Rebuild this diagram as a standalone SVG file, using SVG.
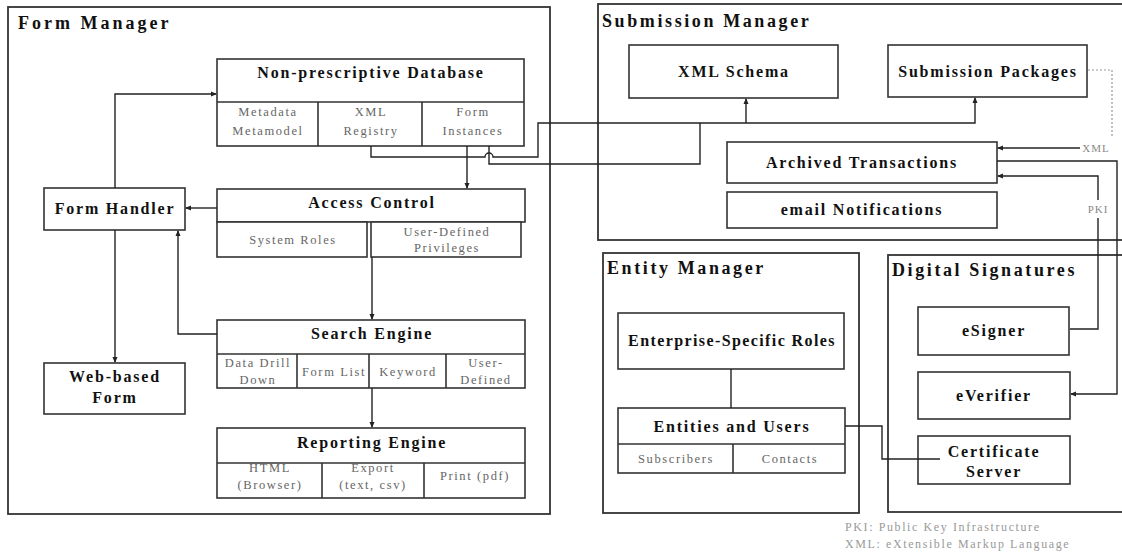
<svg xmlns="http://www.w3.org/2000/svg" width="1122" height="554" viewBox="0 0 1122 554">
  <defs>
    <marker id="dot" viewBox="0 0 6 6" refX="5" refY="3" markerWidth="6" markerHeight="6" markerUnits="userSpaceOnUse" orient="auto">
      <path d="M0,0.5 L6,3 L0,5.5 Z" fill="#222"/>
    </marker>
    <style>
      .frame { fill: #fff; stroke: #333; stroke-width: 1.8; }
      .box { fill: #fff; stroke: #333; stroke-width: 1.6; }
      .div { fill: none; stroke: #333; stroke-width: 1.6; }
      .link { fill: none; stroke: #222; stroke-width: 1.4; }
      .arrow { marker-end: url(#dot); }
      .faint { fill: none; stroke: #999; stroke-width: 1.2; stroke-dasharray: 2 2; }
      .title { font-family: "Liberation Serif", "Times New Roman", serif; font-weight: bold; font-size: 18px; letter-spacing: 2.6px; fill: #111; }
      .head { font-family: "Liberation Serif", "Times New Roman", serif; font-weight: bold; font-size: 16px; letter-spacing: 1.8px; fill: #111; text-anchor: middle; }
      .cell { font-family: "Liberation Serif", "Times New Roman", serif; font-size: 12.5px; letter-spacing: 1.6px; fill: #666; text-anchor: middle; }
      .tag { font-family: "Liberation Serif", "Times New Roman", serif; font-size: 11px; letter-spacing: 1px; fill: #888; text-anchor: middle; }
      .legend { font-family: "Liberation Serif", "Times New Roman", serif; font-size: 12px; letter-spacing: 1.6px; fill: #999; }
    </style>
  </defs>
  <rect width="1122" height="554" fill="#fff"/>

  <!-- manager frames -->
  <g id="form-manager">
    <rect class="frame" x="8" y="7" width="542" height="507"/>
    <text class="title" x="18" y="29" style="letter-spacing:3px">Form Manager</text>
  </g>
  <g id="submission-manager">
    <rect class="frame" x="598" y="4" width="540" height="236"/>
    <text class="title" x="602" y="27">Submission Manager</text>
  </g>
  <g id="entity-manager">
    <rect class="frame" x="603" y="253" width="256" height="260"/>
    <text class="title" x="607" y="274">Entity Manager</text>
  </g>
  <g id="digital-signatures">
    <rect class="frame" x="888" y="255" width="250" height="257"/>
    <text class="title" x="892" y="276">Digital Signatures</text>
  </g>

  <!-- Form Manager nodes -->
  <g id="database">
    <rect class="box" x="217" y="59" width="307" height="87"/>
    <path class="div" d="M217,102 H524 M318,102 V146 M422,102 V146"/>
    <text class="head" x="371" y="78">Non-prescriptive Database</text>
    <text class="cell" x="268" y="116">Metadata</text>
    <text class="cell" x="268" y="135">Metamodel</text>
    <text class="cell" x="371" y="116">XML</text>
    <text class="cell" x="371" y="135">Registry</text>
    <text class="cell" x="473" y="116">Form</text>
    <text class="cell" x="473" y="135">Instances</text>
  </g>
  <g id="form-handler">
    <rect class="box" x="44" y="188" width="141" height="42"/>
    <text class="head" x="115" y="214">Form Handler</text>
  </g>
  <g id="access-control">
    <rect class="box" x="217" y="189" width="308" height="33"/>
    <rect class="box" x="217" y="222" width="150" height="35"/>
    <rect class="box" x="371" y="222" width="150" height="35"/>
    <text class="head" x="372" y="208">Access Control</text>
    <text class="cell" x="293" y="244">System Roles</text>
    <text class="cell" x="447" y="236">User-Defined</text>
    <text class="cell" x="447" y="252">Privileges</text>
  </g>
  <g id="search-engine">
    <rect class="box" x="217" y="320" width="308" height="68"/>
    <path class="div" d="M217,354 H525 M297,354 V388 M369,354 V388 M446,354 V388"/>
    <text class="head" x="372" y="339">Search Engine</text>
    <text class="cell" x="258" y="367">Data Drill</text>
    <text class="cell" x="258" y="384">Down</text>
    <text class="cell" x="334" y="376">Form List</text>
    <text class="cell" x="408" y="376">Keyword</text>
    <text class="cell" x="486" y="367">User-</text>
    <text class="cell" x="486" y="384">Defined</text>
  </g>
  <g id="web-form">
    <rect class="box" x="44" y="363" width="141" height="51"/>
    <text class="head" x="115" y="382">Web-based</text>
    <text class="head" x="115" y="403">Form</text>
  </g>
  <g id="reporting-engine">
    <rect class="box" x="217" y="428" width="308" height="70"/>
    <path class="div" d="M217,463 H525 M322,463 V498 M424,463 V498"/>
    <text class="head" x="372" y="448">Reporting Engine</text>
    <text class="cell" x="270" y="472">HTML</text>
    <text class="cell" x="270" y="489">(Browser)</text>
    <text class="cell" x="373" y="472">Export</text>
    <text class="cell" x="373" y="489">(text, csv)</text>
    <text class="cell" x="475" y="480">Print (pdf)</text>
  </g>

  <!-- Submission Manager nodes -->
  <g id="xml-schema">
    <rect class="box" x="629" y="45" width="209" height="53"/>
    <text class="head" x="734" y="77">XML Schema</text>
  </g>
  <g id="submission-packages">
    <rect class="box" x="888" y="45" width="199" height="52"/>
    <text class="head" x="988" y="77">Submission Packages</text>
  </g>
  <g id="archived-transactions">
    <rect class="box" x="727" y="142" width="270" height="41"/>
    <text class="head" x="862" y="168">Archived Transactions</text>
  </g>
  <g id="email-notifications">
    <rect class="box" x="727" y="192" width="270" height="36"/>
    <text class="head" x="862" y="215">email Notifications</text>
  </g>

  <!-- Entity Manager nodes -->
  <g id="enterprise-roles">
    <rect class="box" x="618" y="313" width="226" height="56"/>
    <text class="head" x="732" y="346" style="letter-spacing:1.4px">Enterprise-Specific Roles</text>
  </g>
  <g id="entities-users">
    <rect class="box" x="618" y="408" width="227" height="65"/>
    <path class="div" d="M618,444 H845 M733,444 V473"/>
    <text class="head" x="732" y="432">Entities and Users</text>
    <text class="cell" x="676" y="463">Subscribers</text>
    <text class="cell" x="790" y="463">Contacts</text>
  </g>

  <!-- Digital Signatures nodes -->
  <g id="esigner">
    <rect class="box" x="918" y="307" width="151" height="48"/>
    <text class="head" x="994" y="336">eSigner</text>
  </g>
  <g id="everifier">
    <rect class="box" x="918" y="372" width="152" height="47"/>
    <text class="head" x="994" y="401">eVerifier</text>
  </g>
  <g id="certificate-server">
    <rect class="box" x="918" y="436" width="152" height="48"/>
    <text class="head" x="994" y="457">Certificate</text>
    <text class="head" x="994" y="477">Server</text>
  </g>

  <!-- connectors -->
  <g id="connectors">
    <path class="link arrow" d="M115,188 V94 H216"/>
    <path class="link arrow" d="M217,208 H186"/>
    <path class="link arrow" d="M217,334 H178 V231"/>
    <path class="link arrow" d="M115,230 V362"/>
    <path class="link arrow" d="M467,146 V188"/>
    <path class="link arrow" d="M372,257 V319"/>
    <path class="link arrow" d="M372,388 V427"/>
    <path class="link arrow" d="M371,146 V157 H485 A4,4 0 0 1 493,157 H538 V123 H975 V98"/>
    <path class="link arrow" d="M746,123 V99"/>
    <path class="link" d="M489,146 V164 H700 V123"/>
    <path class="faint" d="M1088,70 H1112 V138"/>
    <path class="link arrow" d="M1080,148 H998"/>
    <path class="link arrow" d="M997,161 H1117 V394 H1071"/>
    <path class="link" d="M1070,329 H1098 V218"/>
    <path class="link arrow" d="M1098,200 V176 H998"/>
    <path class="link" d="M731,369 V408"/>
    <path class="link" d="M845,426 H882 V459 H940"/>
    <text class="tag" x="1096" y="152">XML</text>
    <text class="tag" x="1098" y="213">PKI</text>
  </g>

  <!-- abbreviations -->
  <g id="legend">
    <text class="legend" x="845" y="531">PKI: Public Key Infrastructure</text>
    <text class="legend" x="845" y="548">XML: eXtensible Markup Language</text>
  </g>
</svg>
